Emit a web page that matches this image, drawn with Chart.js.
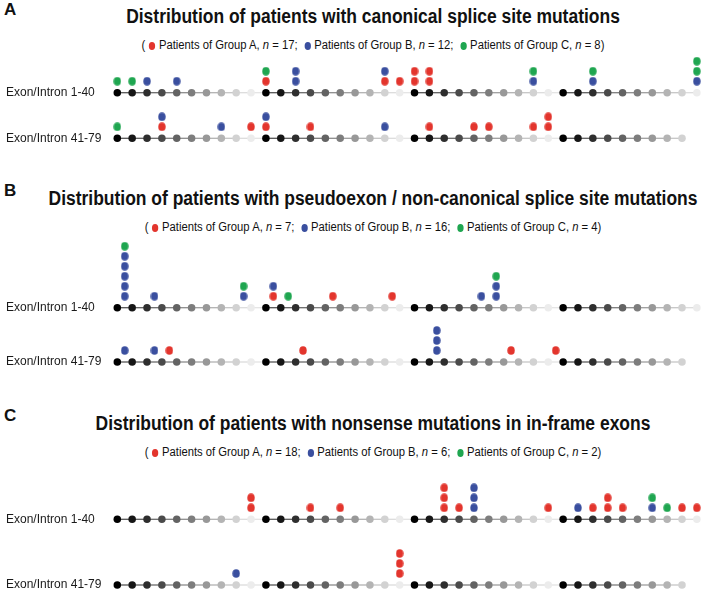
<!DOCTYPE html>
<html>
<head>
<meta charset="utf-8">
<script src="https://cdn.jsdelivr.net/npm/chart.js@4.4.1/dist/chart.umd.min.js"></script>
<style>
  html, body { margin: 0; padding: 0; background: #fff; }
  body { width: 709px; height: 590px; position: relative; overflow: hidden;
         font-family: "Liberation Sans", Arial, Helvetica, sans-serif; color: #111; }
  .letter { position: absolute; left: 4px; font-weight: bold; font-size: 17px; line-height: 1; }
  .title, .legend { position: absolute; left: 373px; white-space: nowrap; line-height: 1; }
  .title { font-weight: bold; font-size: 20px; }
  .legend { font-size: 12.5px; }
  .dot { display: inline-block; width: 7px; height: 8px; border-radius: 50%; margin: 0 4px 0 4px; vertical-align: -1px; }
  .panel { position: absolute; left: 0; width: 709px; }
</style>
</head>
<body>
<script>
const PANEL_LETTERS = ['A', 'B', 'C'];
const PANEL_TITLES = [
  'Distribution of patients with canonical splice site mutations',
  'Distribution of patients with pseudoexon / non-canonical splice site mutations',
  'Distribution of patients with nonsense mutations in in-frame exons'
];
const GROUP_NAMES = ['Patients of Group A', 'Patients of Group B', 'Patients of Group C'];
const ROW_LABELS = ['Exon/Intron 1-40', 'Exon/Intron 41-79'];
const ROW_FIRST = [1, 41];
const ROW_LAST = [40, 79];

// one entry per patient: exon number (x.5 = intron after exon x)
const CANONICAL_A = [11, 19, 20, 21, 21, 22, 22, 44, 50, 51, 54, 62, 65, 66, 69, 70, 70];
const CANONICAL_B = [3, 5, 13, 13, 19, 29, 33, 40, 44, 48, 51, 59];
const CANONICAL_C = [1, 2, 11, 29, 33, 40, 40, 41];

const PSEUDOEXON_A = [11.5, 15.5, 19.5, 44.5, 53.5, 67.5, 70.5];
const PSEUDOEXON_B = [1.5, 1.5, 1.5, 1.5, 1.5, 3.5, 9.5, 11.5, 25.5, 26.5, 26.5, 41.5, 43.5, 62.5, 62.5, 62.5];
const PSEUDOEXON_C = [1.5, 9.5, 12.5, 26.5];

const NONSENSE_A = [10, 10, 14, 16, 23, 23, 23, 24, 30, 33, 34, 34, 35, 39, 40, 60, 60, 60];
const NONSENSE_B = [25, 25, 25, 32, 37, 49];
const NONSENSE_C = [37, 38];

const PANEL_DATA = [
  [CANONICAL_A, CANONICAL_B, CANONICAL_C],
  [PSEUDOEXON_A, PSEUDOEXON_B, PSEUDOEXON_C],
  [NONSENSE_A, NONSENSE_B, NONSENSE_C]
];

// styling
const GROUP_COLORS = ['#e3352d', '#3a4f9f', '#1fa650'];
const GREYS = ['#000000', '#161616', '#2e2e2e', '#4a4a4a', '#636363', '#7d7d7d', '#989898', '#b4b4b4', '#d2d2d2', '#ececec'];
const LINE_GREYS = ['#555555', '#5e5e5e', '#6a6a6a', '#7c7c7c', '#8c8c8c', '#9e9e9e', '#b2b2b2', '#c6c6c6', '#dcdcdc', '#e4e4e4'];
const LAYOUT = [
  { letterY: 9,   titleY: 16,  legendY: 45,  top: 50,  height: 100, row1Y: 92.7,  row2Y: 138.3 },
  { letterY: 190, titleY: 198, legendY: 227, top: 236, height: 136, row1Y: 307.7, row2Y: 362 },
  { letterY: 415, titleY: 423, legendY: 452, top: 480, height: 110, row1Y: 519.3, row2Y: 585 }
];
const TITLE_WIDTH_A = 494;
const LEGEND_WIDTH_A = 463;
const PAD_V = 8;

// oval marker used for the patient dots
function ovalMarker(color) {
  const c = document.createElement('canvas');
  c.width = 8;
  c.height = 9;
  const g = c.getContext('2d');
  g.fillStyle = color;
  g.beginPath();
  g.ellipse(4, 4.5, 3.7, 4.3, 0, 0, Math.PI * 2);
  g.fill();
  return c;
}

function addText(cls, y, size, html) {
  const d = document.createElement('div');
  d.className = cls;
  d.innerHTML = html;
  d.style.top = (y - size * 0.49) + 'px';
  document.body.appendChild(d);
  return d;
}

const titles = [], legends = [];
PANEL_LETTERS.forEach((letter, p) => {
  const L = LAYOUT[p];
  addText('letter', L.letterY, 17, letter);
  titles.push(addText('title', L.titleY, 20, PANEL_TITLES[p]));
  const parts = GROUP_NAMES.map((name, g) =>
    '<span class="dot" style="background:' + GROUP_COLORS[g] + '"></span>' +
    name + ', <i>n</i> = ' + PANEL_DATA[p][g].length);
  legends.push(addText('legend', L.legendY, 12.5, '(' + parts.join('; ') + ')'));
});
const tScale = TITLE_WIDTH_A / titles[0].offsetWidth;
const lScale = LEGEND_WIDTH_A / legends[0].offsetWidth;
titles.forEach(t => { t.style.transform = 'translateX(-50%) scaleX(' + tScale + ')'; });
legends.forEach(t => { t.style.transform = 'translateX(-50%) scaleX(' + lScale + ')'; });

function buildPanel(p) {
  const L = LAYOUT[p];
  const wrap = document.createElement('div');
  wrap.className = 'panel';
  wrap.style.top = L.top + 'px';
  wrap.style.height = L.height + 'px';
  const canvas = document.createElement('canvas');
  canvas.width = 709;
  canvas.height = L.height;
  wrap.appendChild(canvas);
  document.body.appendChild(wrap);

  const yMax = L.row2Y - L.top - PAD_V;
  const yMin = yMax - (L.height - 2 * PAD_V);
  const rowY = [L.row2Y - L.row1Y, 0];

  const datasets = [];
  ROW_FIRST.forEach((first, r) => {
    const pts = [];
    for (let e = first; e <= ROW_LAST[r]; e++) pts.push({ x: e - first + 1, y: rowY[r] });
    datasets.push({
      data: pts,
      showLine: true,
      borderWidth: 1.3,
      borderColor: '#999',
      pointRadius: 3.75,
      pointBorderWidth: 0,
      pointBackgroundColor: pts.map((_, i) => GREYS[i % 10]),
      segment: { borderColor: c => LINE_GREYS[c.p0DataIndex % 10] },
      clip: false,
      order: 2
    });
  });

  const levels = {};
  PANEL_DATA[p].forEach((list, g) => {
    const pts = list.map(v => {
      const r = v < 41 ? 0 : 1;
      const x = v - ROW_FIRST[r] + 1;
      const key = r + ':' + x;
      const k = levels[key] || 0;
      levels[key] = k + 1;
      return { x: x, y: rowY[r] + 11.5 + k * 10 };
    });
    datasets.push({
      data: pts,
      showLine: false,
      pointStyle: ovalMarker(GROUP_COLORS[g]),
      pointRadius: 4,
      pointBorderWidth: 0,
      pointBackgroundColor: GROUP_COLORS[g],
      clip: false,
      order: 1
    });
  });

  new Chart(canvas.getContext('2d'), {
    type: 'scatter',
    data: { datasets: datasets },
    options: {
      responsive: false,
      animation: false,
      events: [],
      layout: { padding: { left: 6, right: 4.7, top: PAD_V, bottom: PAD_V } },
      plugins: { legend: { display: false }, tooltip: { enabled: false } },
      scales: {
        x: { type: 'linear', min: 0, max: 40.5, display: false },
        y: {
          type: 'linear',
          min: yMin,
          max: yMax,
          grid: { display: false },
          border: { display: false },
          afterFit: s => { s.width = 96.44; },
          afterBuildTicks: s => { s.ticks = rowY.map(v => ({ value: v })); },
          ticks: {
            crossAlign: 'far',
            padding: 0,
            color: '#1a1a1a',
            font: { family: '"Liberation Sans", Arial, Helvetica, sans-serif', size: 12 },
            callback: v => (v === 0 ? ROW_LABELS[1] : ROW_LABELS[0])
          }
        }
      }
    }
  });
}

[0, 1, 2].forEach(buildPanel);
</script>
</body>
</html>
